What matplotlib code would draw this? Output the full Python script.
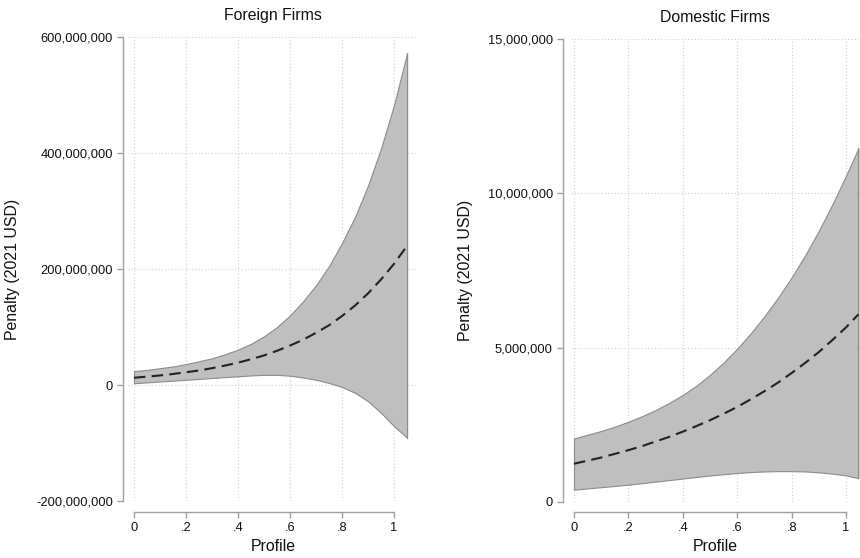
import numpy as np
import matplotlib
matplotlib.use("Agg")
import matplotlib.pyplot as plt
from matplotlib.ticker import FuncFormatter

plt.rcParams['font.family'] = ['Liberation Sans', 'DejaVu Sans']

# profile values (every .05)
foreign_x = [0, .05, .1, .15, .2, .25, .3, .35, .4, .45, .5,
             .55, .6, .65, .7, .75, .8, .85, .9, .95, 1.0, 1.05]
foreign_mean = [12.5e6, 14.4e6, 16.5e6, 19e6, 22e6, 25e6, 29e6, 33.5e6, 38.5e6, 44.5e6, 51e6,
                59e6, 68e6, 78e6, 90e6, 103e6, 119e6, 137e6, 158e6, 182e6, 209e6, 240e6]
foreign_upper = [24e6, 26e6, 29e6, 32e6, 36e6, 41e6, 46e6, 53e6, 61e6, 71e6, 84e6,
                 100e6, 120e6, 144e6, 172e6, 205e6, 245e6, 290e6, 344e6, 408e6, 483e6, 572e6]
foreign_lower = [3e6, 4.5e6, 6e6, 7.5e6, 9e6, 10.5e6, 12e6, 13.5e6, 15e6, 16.5e6, 17.5e6,
                 17.5e6, 16e6, 13e6, 9e6, 3.5e6, -3.5e6, -13.5e6, -28e6, -48e6, -71e6, -91e6]

domestic_x = [0, .05, .1, .15, .2, .25, .3, .35, .4, .45, .5,
              .55, .6, .65, .7, .75, .8, .85, .9, .95, 1.0, 1.045]
domestic_mean = [1.24e6, 1.34e6, 1.44e6, 1.56e6, 1.68e6, 1.81e6, 1.96e6, 2.11e6, 2.28e6, 2.46e6, 2.65e6,
                 2.86e6, 3.08e6, 3.33e6, 3.59e6, 3.87e6, 4.18e6, 4.51e6, 4.86e6, 5.25e6, 5.66e6, 6.08e6]
domestic_upper = [2.06e6, 2.18e6, 2.3e6, 2.44e6, 2.6e6, 2.78e6, 2.98e6, 3.21e6, 3.47e6, 3.77e6, 4.12e6,
                  4.52e6, 4.97e6, 5.47e6, 6.02e6, 6.62e6, 7.28e6, 8.0e6, 8.79e6, 9.65e6, 10.58e6, 11.46e6]
domestic_lower = [0.4e6, 0.44e6, 0.48e6, 0.52e6, 0.56e6, 0.61e6, 0.66e6, 0.71e6, 0.76e6, 0.81e6, 0.86e6,
                  0.9e6, 0.94e6, 0.97e6, 0.99e6, 1.0e6, 1.0e6, 0.99e6, 0.96e6, 0.92e6, 0.86e6, 0.77e6]

xticks = [0, 0.2, 0.4, 0.6, 0.8, 1.0]
xticklabels = ['0', '.2', '.4', '.6', '.8', '1']
foreign_yticks = [-200e6, 0, 200e6, 400e6, 600e6]
domestic_yticks = [0, 5e6, 10e6, 15e6]

W, H = 860, 558
fig = plt.figure(figsize=(W / 100, H / 100), dpi=100)

def px_axes(x0, y0, x1, y1):
    # pixel box (top-left origin) -> figure fraction
    return fig.add_axes([x0 / W, 1 - y1 / H, (x1 - x0) / W, (y1 - y0) / H])

def panel(ax, x, mean, lo, hi, yticks, xlim, title, yoff, xoff):
    ax.fill_between(x, lo, hi, facecolor='#bfbfbf', edgecolor='#8c8c8c', linewidth=0.8, zorder=2)
    ax.plot([x[-1], x[-1]], [lo[-1], hi[-1]], color='#8c8c8c', lw=0.8, zorder=2)
    ax.plot(x, mean, color='#222222', lw=1.5, dashes=(5.5, 3), zorder=3)
    ax.set_xlim(*xlim)
    ax.set_ylim(yticks[0], yticks[-1])
    ax.set_xticks(xticks)
    ax.set_xticklabels(xticklabels)
    ax.set_yticks(yticks)
    ax.yaxis.set_major_formatter(FuncFormatter(lambda v, p: f"{v:,.0f}"))
    ax.grid(True, color='#d0d0d0', linestyle=(0, (1, 2)), linewidth=0.8, zorder=0)
    ax.set_axisbelow(True)
    for s in ['top', 'right']:
        ax.spines[s].set_visible(False)
    ax.spines['left'].set_position(('outward', yoff))
    ax.spines['bottom'].set_position(('outward', xoff))
    ax.spines['bottom'].set_bounds(0, 1)
    for s in ['left', 'bottom']:
        ax.spines[s].set_color('#a0a0a0')
        ax.spines[s].set_linewidth(1.0)
    ax.tick_params(colors='#a0a0a0', labelcolor='#111111', labelsize=9.3, length=4.3, width=1.0, pad=3)
    ax.text(0.5, 1.047, title, transform=ax.transAxes, ha='center', va='center', fontsize=11.4, color='#111111')
    ax.set_ylabel('Penalty (2021 USD)', fontsize=11.4, color='#111111')

ax1 = px_axes(128, 37, 418, 501)
panel(ax1, foreign_x, foreign_mean, foreign_lower, foreign_upper, foreign_yticks,
      (-0.023, 1.092), 'Foreign Firms', 3.6, 7.9)
ax1.yaxis.set_label_coords(-0.372, 0.5)
ax1.text(0.5, -0.099, 'Profile', transform=ax1.transAxes, ha='center', va='center', fontsize=11.4, color='#111111')

ax2 = px_axes(571, 39, 860, 502)
panel(ax2, domestic_x, domestic_mean, domestic_lower, domestic_upper, domestic_yticks,
      (-0.011, 1.051), 'Domestic Firms', 5.8, 7.2)
ax2.yaxis.set_label_coords(-0.339, 0.5)
ax2.text(0.5, -0.097, 'Profile', transform=ax2.transAxes, ha='center', va='center', fontsize=11.4, color='#111111')

fig.savefig('out.png', dpi=100)
